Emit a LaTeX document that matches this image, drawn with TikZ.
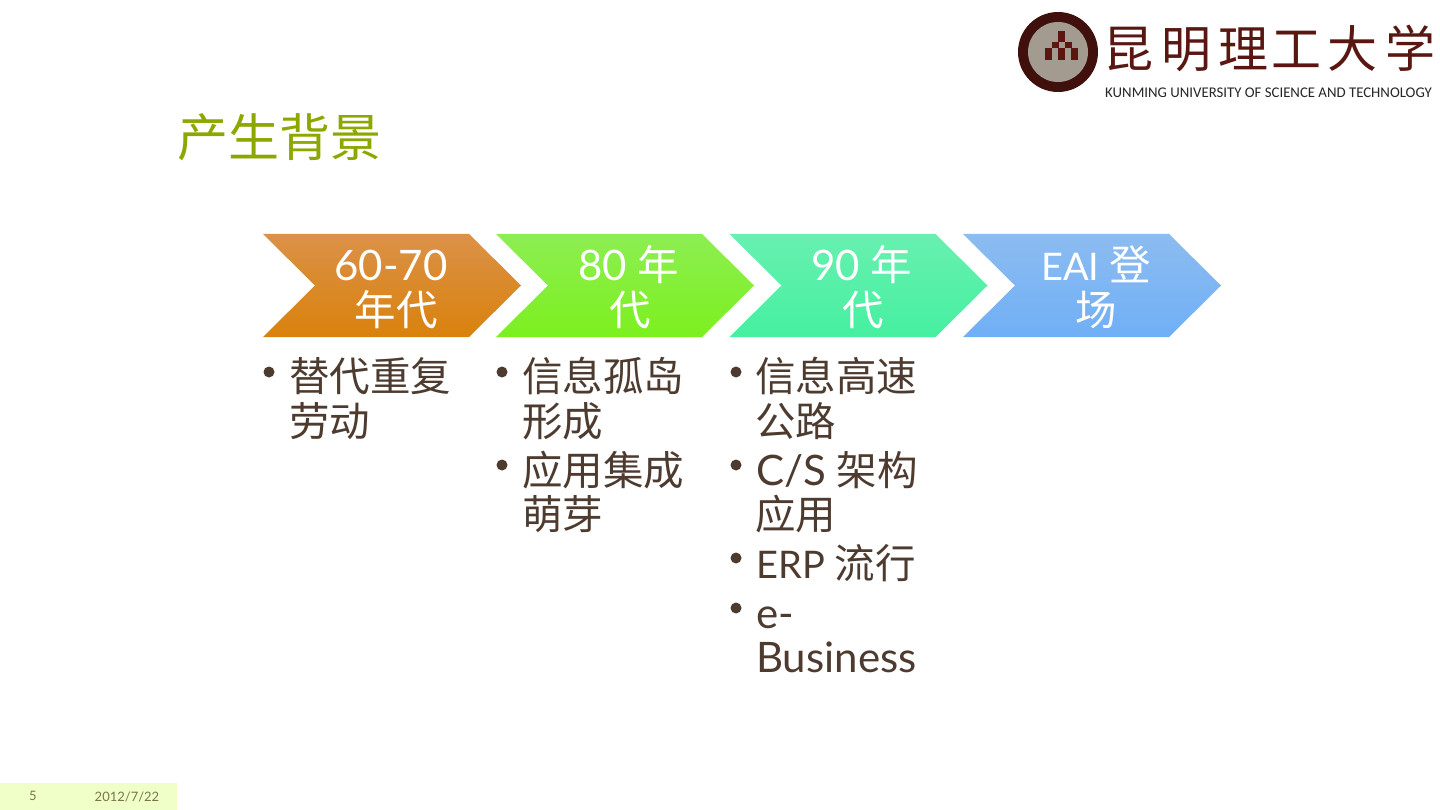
\documentclass[tikz,border=0pt]{standalone}
\usepackage{fontspec}
\setmainfont{Lato}
\newfontfamily\cjk{Noto Sans CJK SC}
\newfontfamily\logofont{Carlito}
\usetikzlibrary{shapes.geometric}
\definecolor{bodytxt}{HTML}{4E3B30}
\definecolor{titlecol}{HTML}{8CA800}
\definecolor{footbg}{HTML}{F0FFC8}
\definecolor{foottxt}{HTML}{77774A}
\definecolor{logored}{HTML}{5A1712}
\definecolor{sealgray}{HTML}{A39A90}
\definecolor{ca}{HTML}{DB9148}\definecolor{cb}{HTML}{D9820C}
\definecolor{da}{HTML}{8DEE52}\definecolor{db}{HTML}{7CF01E}
\definecolor{ea}{HTML}{68F0B0}\definecolor{eb}{HTML}{45F0A0}
\definecolor{fa}{HTML}{8CBCF0}\definecolor{fb}{HTML}{70AFF6}
\newcommand{\hcj}{\cjk\fontsize{41.5}{41.5}\selectfont}
\newcommand{\bcj}{\cjk\fontsize{40.5}{40.5}\selectfont}
\tikzset{
 x=1pt,y=-1pt,
 chev/.style={draw=none},
 headtxt/.style={anchor=base,text=white,inner sep=0pt,font=\fontsize{42}{42}\selectfont},
 bodyline/.style={anchor=base west,text=bodytxt,inner sep=0pt,font=\fontsize{42}{42}\selectfont},
 bul/.style={circle,fill=bodytxt,inner sep=0pt,minimum size=11pt},
 squ/.style={fill=logored,draw=none},
 logoch/.style={anchor=base,text=logored,inner sep=0pt,font=\cjk\fontsize{50}{50}\selectfont},
}
\newcommand{\mychev}[3]{\path[chev,top color=#2,bottom color=#3] (#1,234)--(#1+206,234)--(#1+258,285.5)--(#1+206,337)--(#1,337)--(#1+52,285.5)--cycle;}
\begin{document}
\begin{tikzpicture}
\useasboundingbox[fill=white] (0,0) rectangle (1440,810);
% logo
\fill[logored!70!black] (1058,52) circle (40);
\fill[sealgray] (1058,52) circle (30);
\foreach \a/\b in {1045/48, 1052/42, 1058/48, 1058/31, 1065/42, 1071/48, 1045/54, 1058/36}{
 \fill[squ] (\a,\b) rectangle +(6.5,6.5);}
\fill[squ] (1071,48) rectangle (1077.5,60);
\fill[squ] (1045,48) rectangle (1051.5,60);
\fill[squ] (1058,48) rectangle (1064.5,60);
\node[logoch] (l1) at (1128,68) {昆};
\node[logoch] (l2) at (1186,68) {明};
\node[logoch] (l3) at (1243,68) {理};
\node[logoch] (l4) at (1296,68) {工};
\node[logoch] (l5) at (1352,68) {大};
\node[logoch] (l6) at (1410,68) {学};
\node[anchor=base west,inner sep=0pt,text=black!85,font=\logofont\fontsize{14.8}{15}\selectfont] (logotxt) at (1105,98) {KUNMING UNIVERSITY OF SCIENCE AND TECHNOLOGY};
% title
\node[anchor=base west,inner sep=0pt,text=titlecol,font=\cjk\fontsize{51}{51}\selectfont] (title) at (177,157) {产生背景};
% chevrons
\mychev{263}{ca}{cb}
\mychev{496}{da}{db}
\mychev{729.5}{ea}{eb}
\mychev{963}{fa}{fb}
\node[headtxt] (h1a) at (391,280.5) {60-70};
\node[headtxt] (h1b) at (396,325) {\hcj 年代};
\node[headtxt] (h2a) at (629,280.5) {80 \hcj 年};
\node[headtxt] (h2b) at (630,325) {\hcj 代};
\node[headtxt] (h3a) at (862,280.5) {90 \hcj 年};
\node[headtxt] (h3b) at (863,325) {\hcj 代};
\node[headtxt] (h4a) at (1096,280.5) {\fontsize{38}{38}\selectfont EAI \hcj 登};
\node[headtxt] (h4b) at (1096,325) {\hcj 场};
% bullets col 1
\node[bul] (b1) at (269,372) {};
\node[bodyline] (t1a) at (289,391) {\bcj 替代重复};
\node[bodyline] (t1b) at (289,436) {\bcj 劳动};
% col 2
\node[bul] (b2) at (502,372) {};
\node[bodyline] (t2a) at (522,391) {\bcj 信息孤岛};
\node[bodyline] (t2b) at (522,436) {\bcj 形成};
\node[bul] (b3) at (502,465) {};
\node[bodyline] (t3a) at (522,485) {\bcj 应用集成};
\node[bodyline] (t3b) at (522,529) {\bcj 萌芽};
% col 3
\node[bul] (b4) at (736,372) {};
\node[bodyline] (t4a) at (755,391) {\bcj 信息高速};
\node[bodyline] (t4b) at (755,436) {\bcj 公路};
\node[bul] (b5) at (736,465) {};
\node[bodyline] (t5a) at (756,485) {C/S \bcj 架构};
\node[bodyline] (t5b) at (755,529) {\bcj 应用};
\node[bul] (b6) at (736,558) {};
\node[bodyline] (t6) at (756,578) {\fontsize{38}{38}\selectfont ERP \bcj 流行};
\node[bul] (b7) at (736,608) {};
\node[bodyline] (t7a) at (756,628) {e-};
\node[bodyline] (t7b) at (756,672) {Business};
% footer
\fill[footbg] (0,783) rectangle (177,810);
\node[anchor=center,inner sep=0pt,text=foottxt,font=\fontsize{13}{13}\selectfont] (pg) at (33,796) {5};
\node[anchor=center,inner sep=0pt,text=foottxt,font=\fontsize{13}{13}\selectfont] (dt) at (127,797) {2012/7/22};
\end{tikzpicture}
\end{document}
